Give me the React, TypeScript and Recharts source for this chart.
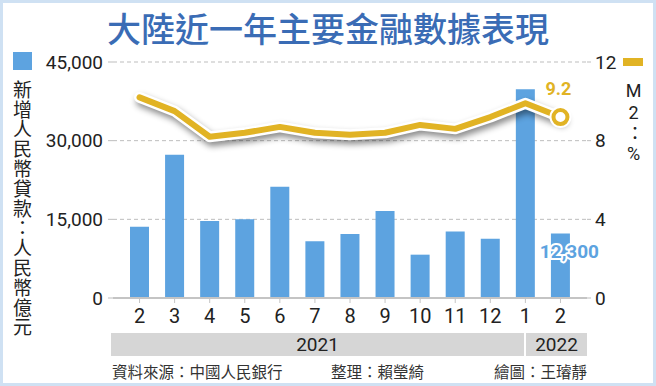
import React from "react";
import {
  ComposedChart,
  Bar,
  Line,
  XAxis,
  YAxis,
  CartesianGrid,
  LabelList,
} from "recharts";

const categories = [
  "2021-02", "2021-03", "2021-04", "2021-05", "2021-06", "2021-07", "2021-08",
  "2021-09", "2021-10", "2021-11", "2021-12", "2022-01", "2022-02",
];
const monthLabels = ["2", "3", "4", "5", "6", "7", "8", "9", "10", "11", "12", "1", "2"];
// 新增人民幣貸款（人民幣億元）
const loans = [13600, 27300, 14700, 15000, 21200, 10800, 12200, 16600, 8262, 12700, 11300, 39800, 12300];
// M2 年增率（%）
const m2 = [10.2, 9.5, 8.2, 8.4, 8.7, 8.4, 8.3, 8.4, 8.8, 8.6, 9.2, 9.9, 9.2];
const leftTicks = [0, 15000, 30000, 45000];
const rightTicks = [0, 4, 8, 12];

const BLUE = "#5DA3E0";
const GOLD = "#E1B324";
const FONT = "Roboto, 'Noto Sans CJK TC', sans-serif";
const CJK = "'Noto Sans CJK TC', Roboto, sans-serif";

const data = categories.map((c, i) => ({ cat: c, loans: loans[i], m2: m2[i] }));
const last = data.length - 1;

export default function App() {
  return (
    <div
      style={{
        position: "absolute",
        left: 0,
        top: 0,
        width: 656,
        height: 386,
        background: "#fff",
        fontFamily: FONT,
        color: "#222",
      }}
    >
      <style>{`.m2-casing path { filter: drop-shadow(2px 4px 3px rgba(0,0,0,0.45)); }`}</style>
      <div
        style={{
          position: "absolute",
          left: 0,
          top: 6,
          width: 656,
          textAlign: "center",
          fontFamily: CJK,
          fontSize: 34,
          fontWeight: 500,
          color: "#3A6CB5",
          lineHeight: "44px",
        }}
      >
        大陸近一年主要金融數據表現
      </div>

      {/* left legend + vertical title */}
      <div style={{ position: "absolute", left: 13, top: 52, width: 19, height: 18, background: BLUE }} />
      <div
        style={{
          position: "absolute",
          left: 8,
          top: 80,
          width: 28,
          writingMode: "vertical-rl",
          textOrientation: "upright",
          fontFamily: CJK,
          fontSize: 19,
          lineHeight: "28px",
          letterSpacing: 0.8,
        }}
      >
        新增人民幣貸款：人民幣億元
      </div>

      {/* right legend + vertical title */}
      <div style={{ position: "absolute", left: 623, top: 58, width: 20, height: 8, background: GOLD }} />
      <div
        style={{
          position: "absolute",
          left: 619,
          top: 80,
          width: 28,
          writingMode: "vertical-rl",
          textOrientation: "upright",
          fontFamily: FONT,
          fontSize: 18,
          lineHeight: "28px",
          letterSpacing: 1,
        }}
      >
        M2：%
      </div>

      <div style={{ position: "absolute", left: 0, top: 0 }}>
        <ComposedChart
          width={656}
          height={386}
          data={data}
          margin={{ top: 62, bottom: 58, left: 53, right: 24 }}
        >
          <CartesianGrid
            vertical={false}
            yAxisId="left"
            stroke="#bdbdbd"
            strokeDasharray="4 3"
          />
          <XAxis
            dataKey="cat"
            interval={0}
            height={30}
            tickFormatter={(_v: string, i: number) => monthLabels[i]}
            padding={{ left: 9, right: 9 }}
            axisLine={{ stroke: "#c4c4c4", strokeWidth: 2 }}
            tickLine={{ stroke: "#c4c4c4" }}
            tickSize={5}
            tickMargin={6}
            tick={{ fill: "#222", fontSize: 20, fontFamily: FONT }}
          />
          <YAxis
            yAxisId="left"
            width={60}
            domain={[0, 45000]}
            ticks={leftTicks}
            axisLine={false}
            tickLine={{ stroke: "#bdbdbd" }}
            tickSize={5}
            tickMargin={5}
            tickFormatter={(v: number) => v.toLocaleString("en-US")}
            tick={{ fill: "#222", fontSize: 19, fontFamily: FONT }}
          />
          <YAxis
            yAxisId="right"
            orientation="right"
            width={45}
            domain={[0, 12]}
            ticks={rightTicks}
            axisLine={false}
            tickLine={{ stroke: "#bdbdbd" }}
            tickSize={4}
            tickMargin={4}
            tick={{ fill: "#222", fontSize: 19, fontFamily: FONT, textAnchor: "start" }}
          />
          <Bar yAxisId="left" dataKey="loans" fill={BLUE} barSize={19} isAnimationActive={false}>
            <LabelList
              dataKey="loans"
              content={(p: any) =>
                p.index === last ? (
                  <text
                    x={p.x + p.width / 2 + 9}
                    y={p.y + 25}
                    textAnchor="middle"
                    fontFamily={FONT}
                    fontSize={19}
                    fontWeight={700}
                    fill={BLUE}
                    stroke="#fff"
                    strokeWidth={4}
                    strokeLinejoin="round"
                    paintOrder="stroke"
                  >
                    {Number(p.value).toLocaleString("en-US")}
                  </text>
                ) : null
              }
            />
          </Bar>
          <Line
            className="m2-casing"
            yAxisId="right"
            dataKey="m2"
            stroke="#fff"
            strokeWidth={11}
            strokeLinecap="round"
            strokeLinejoin="round"
            isAnimationActive={false}
            dot={(p: any) =>
              p.index === last ? (
                <circle key={p.index} cx={p.cx} cy={p.cy} r={11} fill="#fff" />
              ) : (
                <g key={p.index} />
              )
            }
            activeDot={false}
          />
          <Line
            yAxisId="right"
            dataKey="m2"
            stroke={GOLD}
            strokeWidth={6}
            strokeLinecap="round"
            strokeLinejoin="round"
            isAnimationActive={false}
            dot={(p: any) =>
              p.index === last ? (
                <circle key={p.index} cx={p.cx} cy={p.cy} r={7} fill="#fff" stroke={GOLD} strokeWidth={4} />
              ) : (
                <g key={p.index} />
              )
            }
            activeDot={false}
          >
            <LabelList
              dataKey="m2"
              content={(p: any) =>
                p.index === last ? (
                  <text
                    x={p.x - 2}
                    y={p.y - 22}
                    textAnchor="middle"
                    fontFamily={FONT}
                    fontSize={18}
                    fontWeight={700}
                    fill={GOLD}
                  >
                    {Number(p.value).toFixed(1)}
                  </text>
                ) : null
              }
            />
          </Line>
        </ComposedChart>
      </div>

      {/* year bands */}
      <div
        style={{
          position: "absolute",
          left: 111,
          top: 333,
          width: 413,
          height: 23,
          background: "#d6d6d6",
          textAlign: "center",
          fontSize: 19,
          lineHeight: "23px",
        }}
      >
        2021
      </div>
      <div
        style={{
          position: "absolute",
          left: 526,
          top: 333,
          width: 61,
          height: 23,
          background: "#d6d6d6",
          textAlign: "center",
          fontSize: 19,
          lineHeight: "23px",
        }}
      >
        2022
      </div>

      {/* footer */}
      <div style={{ position: "absolute", left: 112, top: 361, fontFamily: CJK, fontSize: 15.5, lineHeight: "20px", color: "#333" }}>
        資料來源：中國人民銀行
      </div>
      <div style={{ position: "absolute", left: 331, top: 361, fontFamily: CJK, fontSize: 15.5, lineHeight: "20px", color: "#333" }}>
        整理：賴瑩綺
      </div>
      <div style={{ position: "absolute", right: 69, top: 361, fontFamily: CJK, fontSize: 15.5, lineHeight: "20px", color: "#333" }}>
        繪圖：王璿靜
      </div>

      {/* frame */}
      <div
        style={{
          position: "absolute",
          left: 0,
          top: 0,
          width: 656,
          height: 386,
          boxSizing: "border-box",
          border: "3px solid #cfe1f3",
          pointerEvents: "none",
        }}
      />
    </div>
  );
}
